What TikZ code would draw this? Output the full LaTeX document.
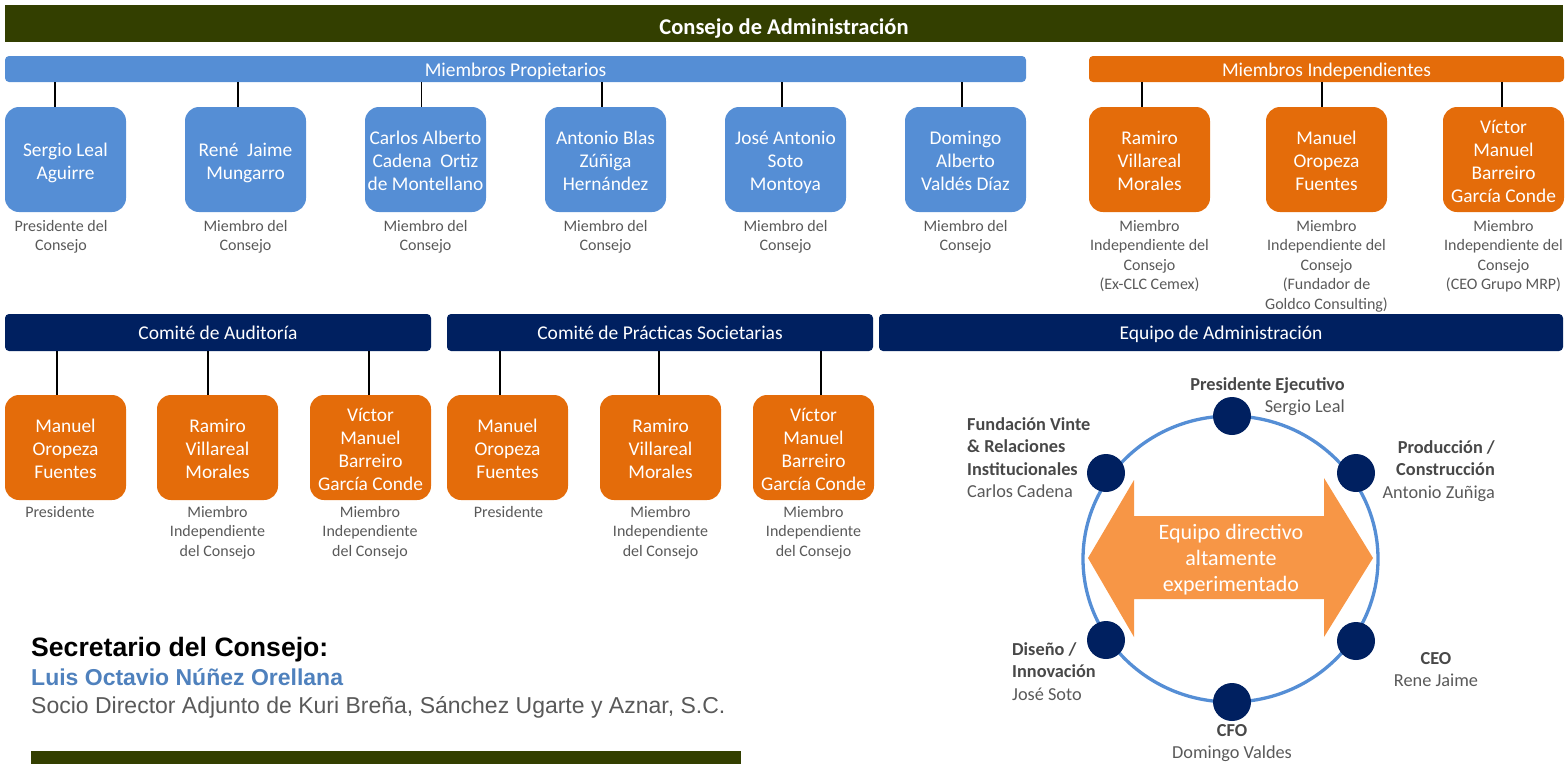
\documentclass[tikz,border=0pt]{standalone}
\usepackage{fontspec}
\setmainfont{Carlito}
\newfontfamily\arialf{Liberation Sans}
\definecolor{hdrgreen}{RGB}{51,63,0}
\definecolor{mblue}{RGB}{85,142,213}
\definecolor{morange}{RGB}{228,108,10}
\definecolor{mnavy}{RGB}{0,32,96}
\definecolor{aorange}{RGB}{247,150,70}
\definecolor{lgray}{RGB}{89,89,89}
\definecolor{dgray}{RGB}{72,72,72}
\definecolor{lblue}{RGB}{79,129,189}
\newcommand\cnline[3]{\draw[conn] ([xshift=#3pt]#1.north) -- ([xshift=#3pt]#1.north |- #2.south);}
\newcommand\fst{\rule{0pt}{21pt}}
\newcommand\lst{\rule[-5pt]{0pt}{5pt}}
\begin{document}
\begin{tikzpicture}[x=1pt,y=-1pt,
  hdrbar/.style={fill=hdrgreen,minimum width=1558pt,minimum height=37pt,inner sep=0pt},
  hdrtxt/.style={text=white,font=\bfseries\fontsize{22.5}{26}\selectfont,inner sep=0pt,anchor=base},
  bar/.style={rounded corners=4pt,text=white,inner sep=0pt,font=\fontsize{19.5}{23}\selectfont},
  barone/.style={bar,minimum height=26pt,text height=17pt,text depth=3pt},
  bartwo/.style={bar,fill=mnavy,minimum height=37pt,text height=17pt,text depth=4pt},
  mbox/.style={rounded corners=14pt,minimum width=121pt,minimum height=105pt,inner sep=0pt,text=white,align=center,font=\fontsize{19.4}{23}\selectfont},
  bbox/.style={mbox,fill=mblue},
  obox/.style={mbox,fill=morange},
  lbl/.style={text=lgray,align=center,inner sep=0pt,anchor=north,font=\fontsize{16}{19.5}\selectfont},
  conn/.style={line width=1.4pt,black},
  dot/.style={circle,fill=mnavy,minimum size=38pt,inner sep=0pt},
  clbl/.style={inner sep=0pt,font=\fontsize{18.3}{22.6}\selectfont,text=lgray}]
\useasboundingbox (0,0) rectangle (1568,764);
% header
\node[hdrbar] (hdr) at (784,23.5) {};
\node[hdrtxt] (hdrt) at (784,34) {Consejo de Administración};
% row 1 bars
\node[barone,fill=mblue,minimum width=1021pt] (mp) at (515.5,69) {Miembros Propietarios};
\node[barone,fill=morange,minimum width=475pt] (mi) at (1326.5,69) {Miembros Independientes};
% row 1 boxes
\node[bbox] (b1) at (65.5,159.5) {\fst Sergio Leal\\Aguirre\lst};
\node[bbox] (b2) at (245.5,159.5) {\fst René~~Jaime\\Mungarro\lst};
\node[bbox] (b3) at (425.5,159.5) {\fst Carlos Alberto\\Cadena~~Ortiz\\de Montellano\lst};
\node[bbox] (b4) at (605.5,159.5) {\fst Antonio Blas\\Zúñiga\\Hernández\lst};
\node[bbox] (b5) at (785.5,159.5) {\fst José Antonio\\Soto\\Montoya\lst};
\node[bbox] (b6) at (965.5,159.5) {\fst Domingo\\Alberto\\Valdés Díaz\lst};
\node[obox] (i1) at (1149.5,159.5) {\fst Ramiro\\Villareal\\Morales\lst};
\node[obox] (i2) at (1326.5,159.5) {\fst Manuel\\Oropeza\\Fuentes\lst};
\node[obox] (i3) at (1503.5,159.5) {\fst Víctor\\Manuel\\Barreiro\\García Conde\lst};
\cnline{b1}{mp}{-10.5}
\cnline{b2}{mp}{-7.5}
\cnline{b3}{mp}{-4}
\cnline{b4}{mp}{-3.5}
\cnline{b5}{mp}{-3.5}
\cnline{b6}{mp}{-3.5}
\cnline{i1}{mi}{-7.5}
\cnline{i2}{mi}{-4.5}
\cnline{i3}{mi}{-1.5}
% row 1 labels
\node[lbl] (l1) at (61,220) {Presidente del\\Consejo};
\node[lbl] (l2) at (245.5,220) {Miembro del\\Consejo};
\node[lbl] (l3) at (425.5,220) {Miembro del\\Consejo};
\node[lbl] (l4) at (605.5,220) {Miembro del\\Consejo};
\node[lbl] (l5) at (785.5,220) {Miembro del\\Consejo};
\node[lbl] (l6) at (965.5,220) {Miembro del\\Consejo};
\node[lbl] (li1) at (1149.5,220) {Miembro\\Independiente del\\Consejo\\(Ex-CLC Cemex)};
\node[lbl] (li2) at (1326.5,220) {Miembro\\Independiente del\\Consejo\\(Fundador de\\Goldco Consulting)};
\node[lbl] (li3) at (1503.5,220) {Miembro\\Independiente del\\Consejo\\(CEO Grupo MRP)};
% row 2 bars
\node[bartwo,minimum width=426pt] (ca) at (218,332.5) {Comité de Auditoría};
\node[bartwo,minimum width=426pt] (cp) at (660,332.5) {Comité de Prácticas Societarias};
\node[bartwo,minimum width=684pt] (ea) at (1221,332.5) {Equipo de Administración};
% row 2 boxes
\node[obox] (a1) at (65.5,447.5) {\fst Manuel\\Oropeza\\Fuentes\lst};
\node[obox] (a2) at (217.5,447.5) {\fst Ramiro\\Villareal\\Morales\lst};
\node[obox] (a3) at (370.5,447.5) {\fst Víctor\\Manuel\\Barreiro\\García Conde\lst};
\node[obox] (p1) at (507.5,447.5) {\fst Manuel\\Oropeza\\Fuentes\lst};
\node[obox] (p2) at (660.5,447.5) {\fst Ramiro\\Villareal\\Morales\lst};
\node[obox] (p3) at (813.5,447.5) {\fst Víctor\\Manuel\\Barreiro\\García Conde\lst};
\cnline{a1}{ca}{-8.5}
\cnline{a2}{ca}{-9.5}
\cnline{a3}{ca}{-1.5}
\cnline{p1}{cp}{-7.5}
\cnline{p2}{cp}{-1.5}
\cnline{p3}{cp}{7.5}
% row 2 labels
\node[lbl] (la1) at (60,506) {Presidente};
\node[lbl] (la2) at (217.5,506) {Miembro\\Independiente\\del Consejo};
\node[lbl] (la3) at (370,506) {Miembro\\Independiente\\del Consejo};
\node[lbl] (lp1) at (508.5,506) {Presidente};
\node[lbl] (lp2) at (660.5,506) {Miembro\\Independiente\\del Consejo};
\node[lbl] (lp3) at (813.5,506) {Miembro\\Independiente\\del Consejo};
% management circle
\draw[mblue,line width=3.3pt] (1230.5,559) ellipse [x radius=147.5pt,y radius=143pt];
\fill[aorange] (1088,558) -- (1134,480) -- (1134,516) -- (1324,516) -- (1324,478) -- (1373,558) -- (1324,637) -- (1324,599) -- (1134,599) -- (1134,637) -- cycle;
\node[text=white,align=center,inner sep=0pt,font=\fontsize{22}{26}\selectfont] (eq) at (1231,560) {Equipo directivo\\altamente\\experimentado};
\node[dot] (d1) at (1232,416) {};
\node[dot] (d2) at (1106,473) {};
\node[dot] (d3) at (1356,473) {};
\node[dot] (d4) at (1106,640) {};
\node[dot] (d5) at (1356,641) {};
\node[dot] (d6) at (1232,702) {};
\node[clbl,anchor=north east,align=right] (t1) at (1345,377) {{\bfseries\color{dgray}Presidente Ejecutivo}\\Sergio Leal};
\node[clbl,anchor=north west,align=left] (t2) at (967,417) {{\bfseries\color{dgray}Fundación Vinte}\\{\bfseries\color{dgray}\& Relaciones}\\{\bfseries\color{dgray}Institucionales}\\Carlos Cadena};
\node[clbl,anchor=north east,align=right] (t3) at (1495,440) {{\bfseries\color{dgray}Producción /}\\{\bfseries\color{dgray}Construcción}\\Antonio Zuñiga};
\node[clbl,anchor=north west,align=left] (t4) at (1012,642) {{\bfseries\color{dgray}Diseño /}\\{\bfseries\color{dgray}Innovación}\\José Soto};
\node[clbl,anchor=north,align=center] (t5) at (1436,652) {{\bfseries\color{dgray}CEO}\\Rene Jaime};
\node[clbl,anchor=north,align=center] (t6) at (1232,724) {{\bfseries\color{dgray}CFO}\\Domingo Valdes};
% secretary
\node[anchor=base west,inner sep=0pt,font=\arialf\bfseries\fontsize{26.6}{30}\selectfont] (s1) at (31,656) {Secretario del Consejo:};
\node[anchor=base west,inner sep=0pt,text=lblue,font=\arialf\bfseries\fontsize{23}{26}\selectfont] (s2) at (31,685) {Luis Octavio Núñez Orellana};
\node[anchor=base west,inner sep=0pt,text=lgray,font=\arialf\fontsize{23}{26}\selectfont] (s3) at (31,713) {Socio Director Adjunto de Kuri Breña, Sánchez Ugarte y Aznar, S.C.};
\fill[hdrgreen] (31,751) rectangle (741,764);
\end{tikzpicture}
\end{document}
